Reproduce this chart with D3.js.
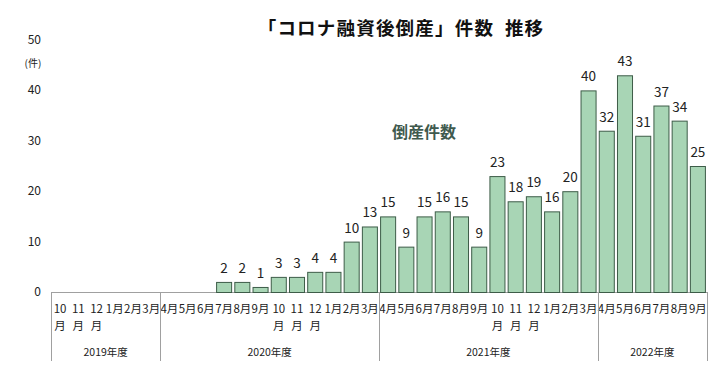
<!DOCTYPE html>
<html><head><meta charset="utf-8">
<script src="https://cdn.jsdelivr.net/npm/d3@7"></script>
<style>body{margin:0;background:#fff}svg{display:block}text{font-family:"Noto Sans CJK JP","Noto Sans",sans-serif}</style>
</head><body><svg id="c" width="723" height="369"></svg>
<script>
const months = ["10月","11月","12月","1月","2月","3月",
  "4月","5月","6月","7月","8月","9月","10月","11月","12月","1月","2月","3月",
  "4月","5月","6月","7月","8月","9月","10月","11月","12月","1月","2月","3月",
  "4月","5月","6月","7月","8月","9月"];
const values = [0,0,0,0,0,0,
  0,0,0,2,2,1,3,3,4,4,10,13,
  15,9,15,16,15,9,23,18,19,16,20,40,
  32,43,31,37,34,25];
const fiscalYears = ["2019年度","2020年度","2021年度","2022年度"];
const fiscalSpans = [6,12,12,6];
const yTicks = [0,10,20,30,40,50];
const title = "「コロナ融資後倒産」件数  推移";
const seriesName = "倒産件数";
const unit = "(件)";

const svg = d3.select("#c");
const m = {l:51, r:707, t:40, b:292};
const keys = months.map((d,i)=>i);
const x = d3.scaleBand().domain(keys).range([m.l,m.r]).paddingInner(0.12).paddingOuter(0.06);
const y = d3.scaleLinear().domain([0,50]).range([m.b,m.t]);

svg.append("text").attr("x",401).attr("y",35).attr("text-anchor","middle")
  .style("white-space","pre").attr("letter-spacing",1.2)
  .attr("font-size",18.5).attr("font-weight","bold").attr("fill","#111").text(title);

// y tick labels
svg.append("g").selectAll("text").data(yTicks).join("text")
  .attr("x",41).attr("y",d=>y(d)+4).attr("text-anchor","end")
  .attr("font-size",12).attr("fill","#222").text(d=>d);
svg.append("text").attr("x",33).attr("y",67).attr("text-anchor","middle")
  .attr("font-size",10).attr("fill","#222").text(unit);

// baseline
svg.append("line").attr("x1",m.l).attr("x2",m.r).attr("y1",m.b+0.5).attr("y2",m.b+0.5)
  .attr("stroke","#a0a0a0");

// bars
svg.append("g").selectAll("rect").data(values.map((v,i)=>({v,i})).filter(d=>d.v>0)).join("rect")
  .attr("x",d=>x(d.i)+0.5).attr("width",x.bandwidth()-1)
  .attr("y",d=>y(d.v)+0.5).attr("height",d=>y(0)-y(d.v))
  .attr("fill","#a8d5b5").attr("stroke","#3d5c48").attr("stroke-width",1);

// value labels
svg.append("g").selectAll("text").data(values.map((v,i)=>({v,i})).filter(d=>d.v>0)).join("text")
  .attr("x",d=>x(d.i)+x.bandwidth()/2).attr("y",d=>y(d.v)-9)
  .attr("text-anchor","middle").attr("font-size",13.5).attr("fill","#222").text(d=>d.v);

// month labels
const step = x.step();
const mg = svg.append("g");
months.forEach((mn,i)=>{
  const cx = m.l + step*(i+0.5);
  const t = mg.append("text").attr("x",cx).attr("y",313).attr("text-anchor","middle")
    .attr("font-size",11.5).attr("fill","#222");
  if (mn.length>2){
    t.append("tspan").attr("x",cx).attr("dy",0).text(mn.slice(0,2));
    t.append("tspan").attr("x",cx).attr("dy",17).text(mn.slice(2));
  } else t.text(mn);
});

// fiscal year separators and labels
let acc = 0;
const sep = [0];
fiscalSpans.forEach(s=>{acc+=s; sep.push(acc);});
svg.append("g").selectAll("line").data(sep).join("line")
  .attr("x1",d=>Math.round(m.l+step*d)+0.5).attr("x2",d=>Math.round(m.l+step*d)+0.5)
  .attr("y1",m.b).attr("y2",361).attr("stroke","#a0a0a0");
svg.append("g").selectAll("text").data(fiscalYears).join("text")
  .attr("x",(d,i)=>m.l+step*(sep[i]+sep[i+1])/2).attr("y",356)
  .attr("text-anchor","middle").attr("font-size",10.5).attr("fill","#222").text(d=>d);

svg.append("text").attr("x",424).attr("y",138).attr("text-anchor","middle")
  .attr("font-size",16).attr("font-weight","bold").attr("fill","#3f5a4e").text(seriesName);
</script></body></html>
